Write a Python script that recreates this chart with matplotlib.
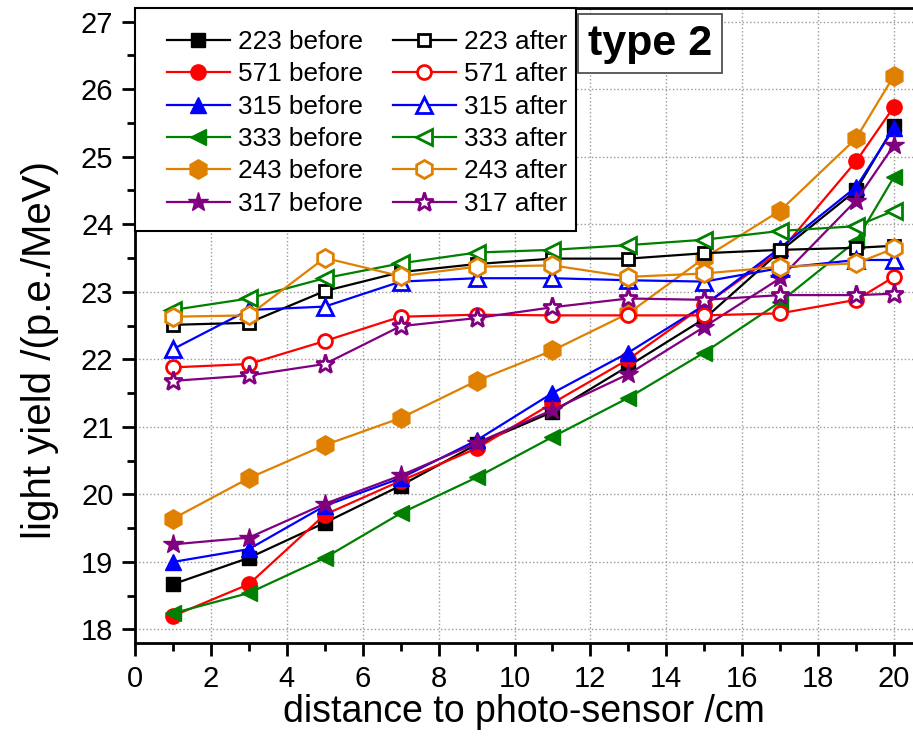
import matplotlib
matplotlib.use("Agg")
from matplotlib import pyplot as plt
from matplotlib.ticker import MultipleLocator
from matplotlib.patches import Rectangle

plt.rcParams['font.family'] = ['Liberation Sans', 'DejaVu Sans']

# distance to photo-sensor (cm)
distance = [1, 3, 5, 7, 9, 11, 13, 15, 17, 19, 20]

# light yield before
ly_223_before = [18.67, 19.06, 19.58, 20.13, 20.74, 21.22, 21.90, 22.60, 23.60, 24.50, 25.45]
ly_571_before = [18.20, 18.67, 19.70, 20.20, 20.68, 21.35, 22.00, 22.80, 23.60, 24.93, 25.74]
ly_315_before = [19.00, 19.19, 19.83, 20.24, 20.80, 21.50, 22.10, 22.80, 23.65, 24.55, 25.42]
ly_333_before = [18.24, 18.54, 19.06, 19.72, 20.25, 20.85, 21.43, 22.10, 22.85, 23.75, 24.70]
ly_243_before = [19.64, 20.24, 20.73, 21.13, 21.68, 22.13, 22.68, 23.50, 24.20, 25.27, 26.20]
ly_317_before = [19.26, 19.36, 19.86, 20.28, 20.76, 21.25, 21.78, 22.48, 23.20, 24.35, 25.17]

# light yield after
ly_223_after = [22.51, 22.54, 23.01, 23.29, 23.41, 23.49, 23.49, 23.57, 23.62, 23.65, 23.68]
ly_571_after = [21.88, 21.93, 22.27, 22.63, 22.66, 22.65, 22.65, 22.65, 22.68, 22.88, 23.22]
ly_315_after = [22.15, 22.73, 22.78, 23.15, 23.20, 23.20, 23.17, 23.15, 23.35, 23.47, 23.47]
ly_333_after = [22.73, 22.90, 23.20, 23.42, 23.58, 23.62, 23.69, 23.77, 23.90, 23.97, 24.20]
ly_243_after = [22.63, 22.65, 23.50, 23.23, 23.37, 23.39, 23.22, 23.27, 23.37, 23.42, 23.64]
ly_317_after = [21.68, 21.76, 21.93, 22.49, 22.61, 22.77, 22.90, 22.88, 22.95, 22.95, 22.97]

samples = ['223', '571', '315', '333', '243', '317']
before = [ly_223_before, ly_571_before, ly_315_before, ly_333_before, ly_243_before, ly_317_before]
after = [ly_223_after, ly_571_after, ly_315_after, ly_333_after, ly_243_after, ly_317_after]
colors = ['black', 'red', 'blue', 'green', '#E08000', 'purple']
markers = ['s', 'o', '^', '<', 'h', '*']
sizes = [10, 11, 12, 12, 14, 15]

fig = plt.figure(figsize=(9.13, 7.46), dpi=100)
ax = fig.add_axes([135 / 913, 103 / 746, 797 / 913, 635 / 746])

handles = []
for name, ys, c, m, ms in zip(samples, before, colors, markers, sizes):
    h, = ax.plot(distance, ys, color=c, marker=m, markersize=ms, lw=1.6,
                 markeredgecolor=c, label=name + " before", zorder=3)
    handles.append(h)
for name, ys, c, m, ms in zip(samples, after, colors, markers, sizes):
    h, = ax.plot(distance, ys, color=c, marker=m, markersize=ms - 1, lw=1.6,
                 markerfacecolor='white', markeredgecolor=c, markeredgewidth=2,
                 label=name + " after", zorder=3)
    handles.append(h)

ax.set_xlim(0, 21)
ax.set_ylim(17.8, 27.2)
ax.xaxis.set_major_locator(MultipleLocator(2))
ax.xaxis.set_minor_locator(MultipleLocator(1))
ax.yaxis.set_major_locator(MultipleLocator(1))
ax.yaxis.set_minor_locator(MultipleLocator(0.5))
ax.tick_params(which='major', length=9.5, width=2, labelsize=21, pad=6)
ax.tick_params(which='minor', length=6, width=2)
ax.grid(True, which='major', color='#999999', linestyle=':', lw=1)
ax.set_axisbelow(True)
for sp in ax.spines.values():
    sp.set_linewidth(2)

ax.set_xlabel("distance to photo-sensor /cm", fontsize=27, va='center')
ax.xaxis.set_label_coords(0.488, -0.109)
ax.set_ylabel("light yield /(p.e./MeV)", fontsize=29, va='center')
ax.yaxis.set_label_coords(-0.119, 0.461)

# legend frame drawn by hand so the entries can sit inset from it
frame = Rectangle((135 / 913, 1 - 231 / 746), 441 / 913, 223 / 746,
                  transform=fig.transFigure, facecolor='white', edgecolor='black',
                  lw=1.5, zorder=4, clip_on=False)
ax.add_patch(frame)
leg = ax.legend(handles=handles, loc='upper left',
                bbox_to_anchor=(167 / 913, 1 - 30 / 746),
                bbox_transform=fig.transFigure, ncol=2, fontsize=18.8,
                frameon=False, borderaxespad=0, borderpad=0,
                handlelength=2.41, handletextpad=0.3, columnspacing=1.15,
                labelspacing=0.32)
leg.set_zorder(5)

fig.text(650 / 913, 1 - 43.5 / 746, "type 2", fontsize=31, fontweight='bold',
         ha='center', va='center',
         bbox=dict(boxstyle='square,pad=0.22', fc='white', ec='#505050', lw=1.3))

fig.savefig("out.png", dpi=100)
